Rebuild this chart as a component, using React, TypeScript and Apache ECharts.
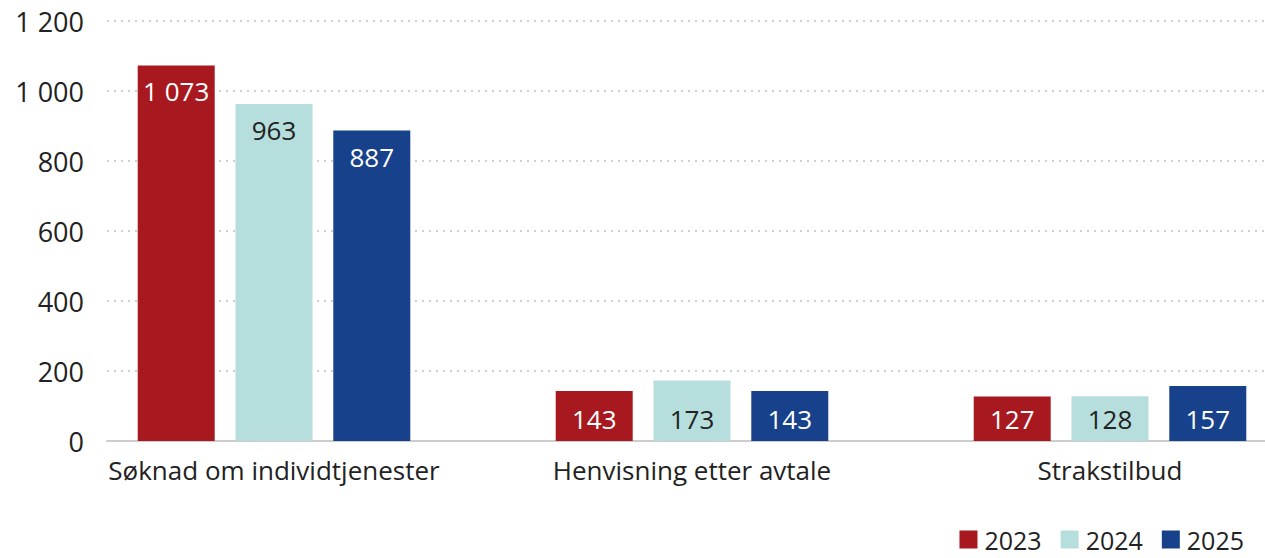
import React, { useEffect, useRef } from "react";
import * as echarts from "echarts";

const categories = ["Søknad om individtjenester", "Henvisning etter avtale", "Strakstilbud"];
const years = ["2023", "2024", "2025"];
const values2023 = [1073, 143, 127];
const values2024 = [963, 173, 128];
const values2025 = [887, 143, 157];
const yTicks = [0, 200, 400, 600, 800, 1000, 1200];

const colors = ["#A8191F", "#B5DEDC", "#17418A"];
const labelColors = ["#ffffff", "#222222", "#ffffff"];
const FONT = "'Open Sans', sans-serif";

const fmt = (v: number) => String(v).replace(/\B(?=(\d{3})+(?!\d))/g, " ");

const CHART_W = 1330;

export default function App() {
  const ref = useRef<HTMLDivElement>(null);
  useEffect(() => {
    if (!ref.current) return;
    const chart = echarts.init(ref.current, null, { renderer: "svg" });
    const seriesData = [values2023, values2024, values2025];
    chart.setOption({
      animation: false,
      textStyle: { fontFamily: FONT },
      grid: [
        { left: 107, width: 1158, top: 21, bottom: 117 },
        { left: 65, width: 1254, top: 21, bottom: 117 },
      ],
      legend: {
        right: CHART_W - 1249,
        top: 522,
        itemWidth: 18,
        itemHeight: 18,
        itemGap: 19,
        icon: "rect",
        textStyle: { fontSize: 25, color: "#222", fontFamily: FONT, padding: [0, 0, 0, 2] },
        data: years,
      },
      xAxis: [
        {
          gridIndex: 0,
          type: "category",
          data: categories,
          axisLine: { show: true, lineStyle: { color: "#cccccc", width: 2 } },
          axisTick: { show: false },
          axisLabel: { show: false },
        },
        {
          gridIndex: 1,
          type: "category",
          data: categories,
          axisLine: { show: false },
          axisTick: { show: false },
          axisLabel: { fontSize: 26, color: "#222", margin: 16, fontFamily: FONT, interval: 0 },
        },
      ],
      yAxis: [
        {
          gridIndex: 0,
          type: "value",
          min: 0,
          max: 1200,
          interval: 200,
          axisLine: { show: false },
          axisTick: { show: false },
          axisLabel: {
            fontSize: 27,
            color: "#222",
            margin: 23,
            fontFamily: FONT,
            formatter: (v: number) => (yTicks.includes(v) ? fmt(v) : ""),
          },
          splitLine: { show: true, lineStyle: { color: "#cfcfcf", type: [2, 5], width: 2 } },
        },
        {
          gridIndex: 1,
          type: "value",
          min: 0,
          max: 1200,
          interval: 200,
          axisLine: { show: false },
          axisTick: { show: false },
          axisLabel: { show: false },
          splitLine: { show: false },
        },
      ],
      series: years.map((y, i) => ({
        name: y,
        type: "bar",
        xAxisIndex: 1,
        yAxisIndex: 1,
        data: seriesData[i].map((v) =>
          v < 300 ? { value: v, label: { position: "insideBottom", distance: 9 } } : { value: v }
        ),
        barWidth: 77,
        barGap: "27%",
        itemStyle: { color: colors[i] },
        label: {
          show: true,
          position: "insideTop",
          distance: 13,
          fontSize: 26,
          color: labelColors[i],
          fontFamily: FONT,
          formatter: (p: any) => fmt(p.value),
        },
      })),
      color: colors,
    });
    return () => chart.dispose();
  }, []);
  return (
    <div style={{ width: 1265, height: 558, position: "absolute", left: 0, top: 0, overflow: "hidden" }}>
      <div ref={ref} style={{ width: CHART_W, height: 558 }} />
    </div>
  );
}
